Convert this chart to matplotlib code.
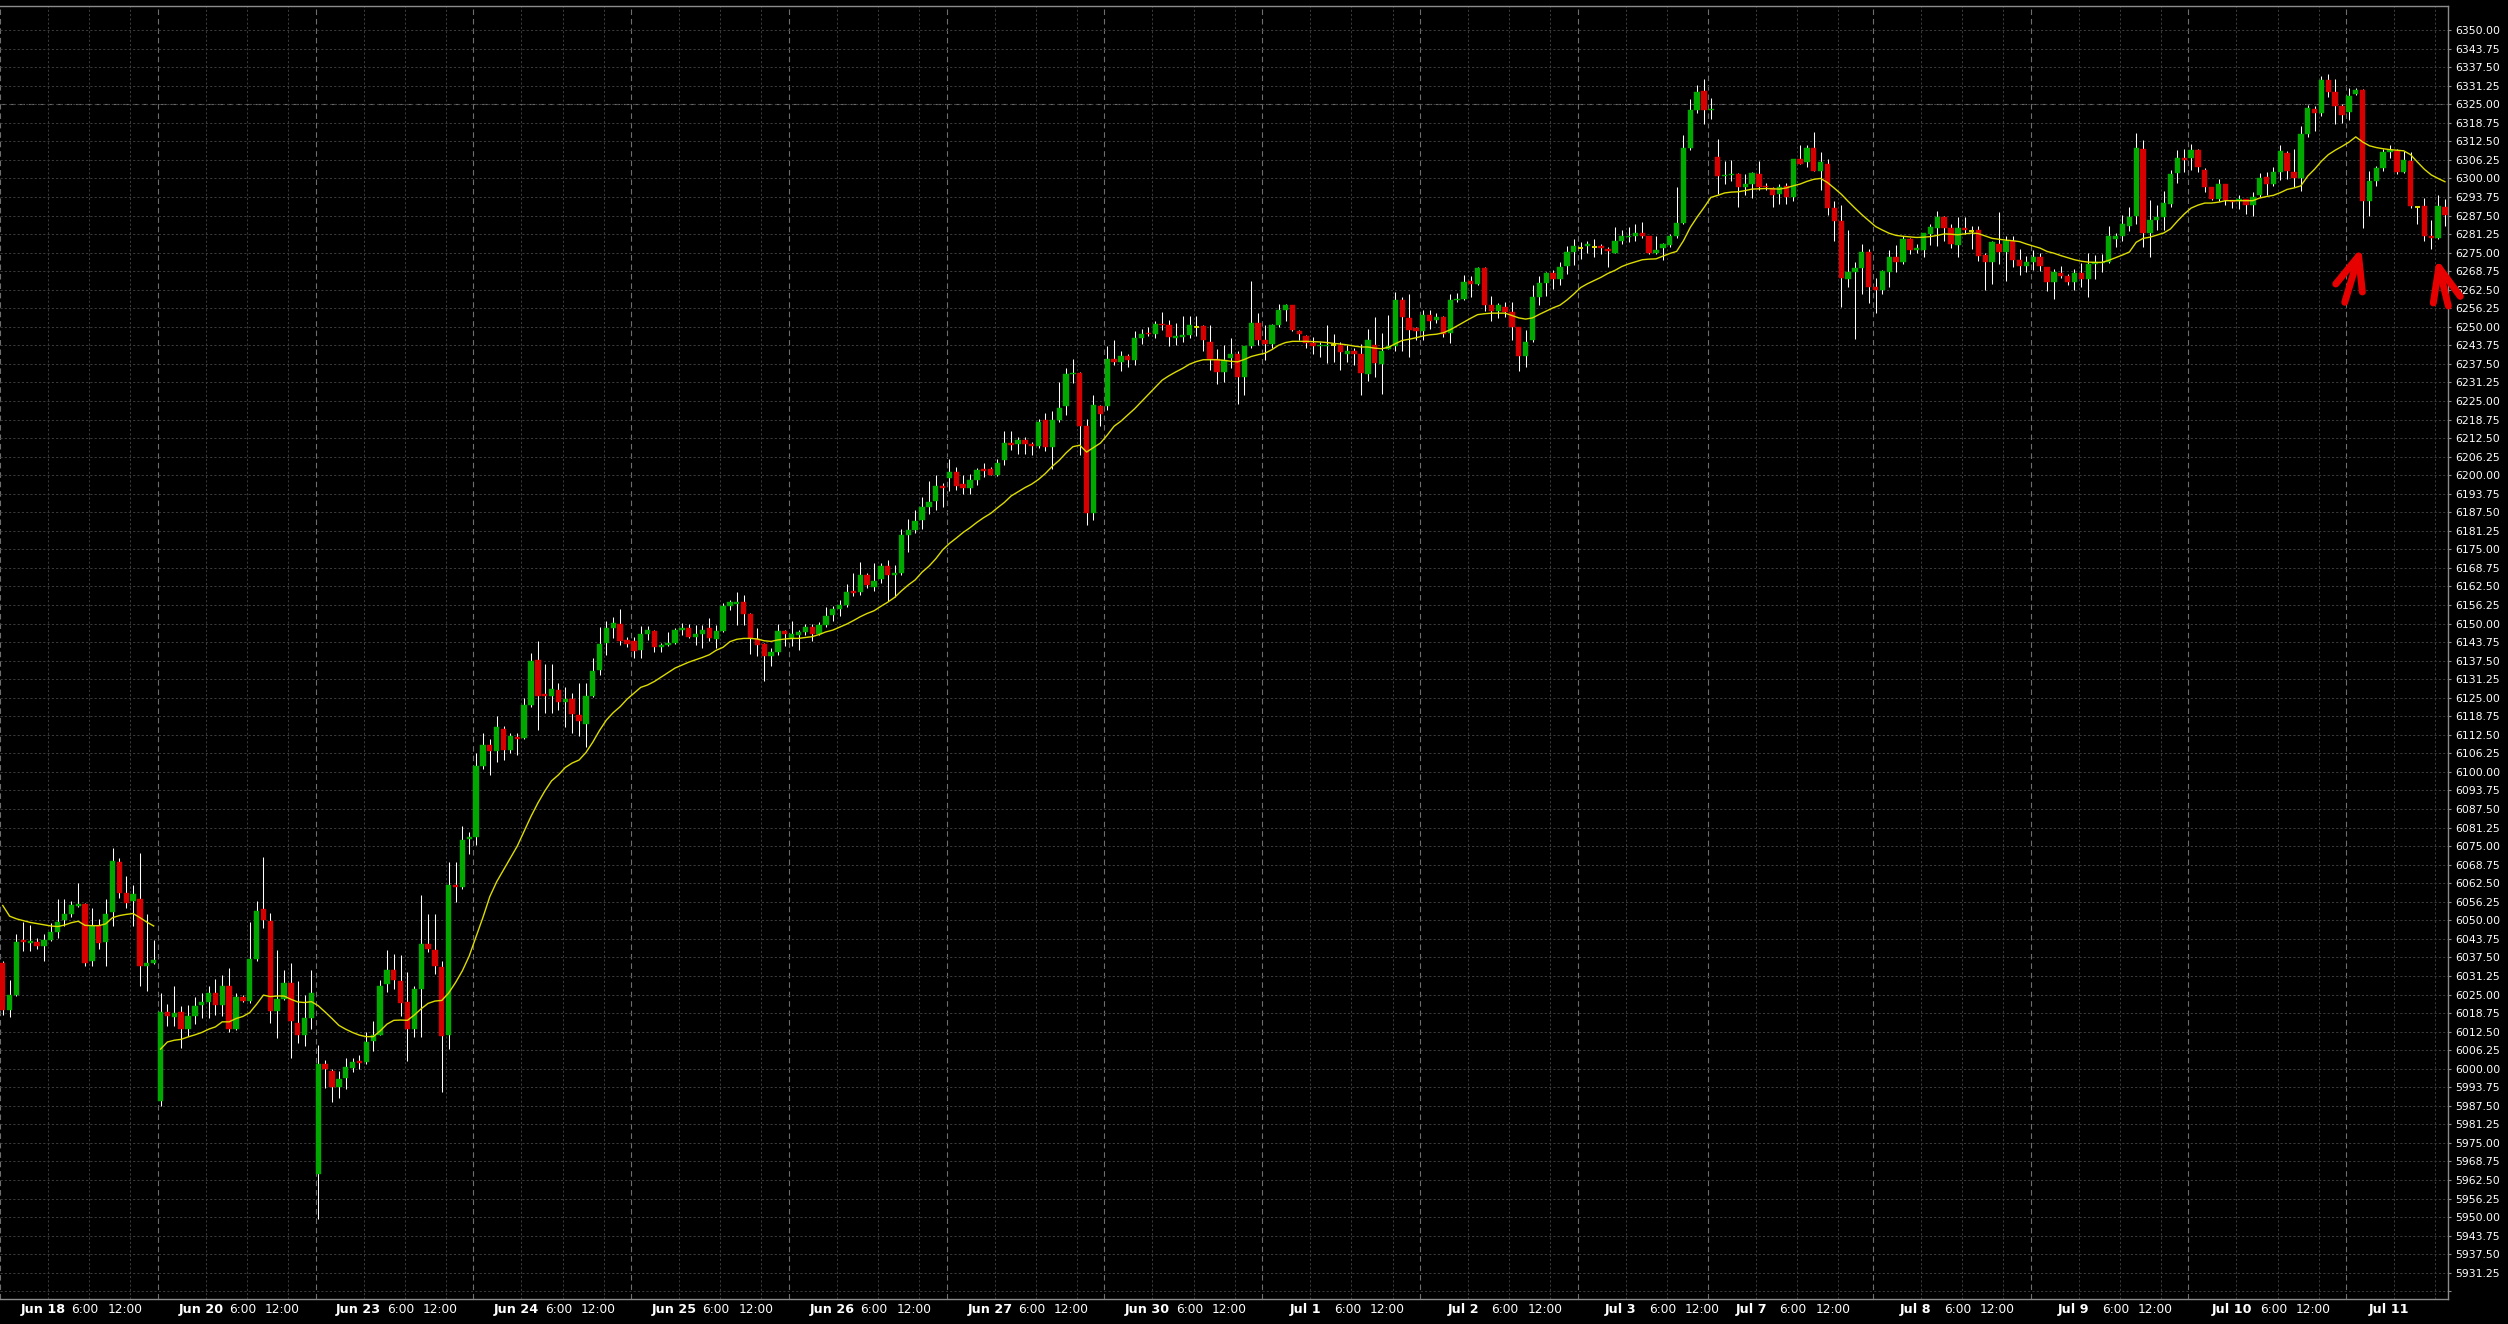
import numpy as np
import matplotlib
matplotlib.use("Agg")
import matplotlib.pyplot as plt

# hourly candles, Jun 18 .. Jul 11 (one row per session)
opens = [
    6035.75, 6019.75, 6024.75, 6043.25, 6042.5, 6042.75, 6041.25, 6043.5, 6046.0, 6050.0, 6052.25, 6054.75, 6055.5, 6036.25, 6048.0, 6042.75, 6052.75, 6069.75, 6059.25, 6056.5, 6057.25, 6034.5, 6035.5,
    5989.25, 6019.25, 6017.5, 6019.25, 6013.5, 6017.75, 6021.5, 6022.5, 6025.5, 6021.5, 6028.0, 6013.5, 6024.0, 6022.75, 6037.0, 6053.75, 6049.75, 6019.5, 6023.5, 6029.0, 6015.5, 6011.5, 6017.0,
    5964.5, 6001.5, 5999.25, 5994.0, 5996.75, 6000.25, 6002.5, 6002.25, 6009.5, 6011.5, 6028.5, 6033.25, 6029.5, 6022.5, 6013.25, 6027.0, 6042.0, 6040.0, 6034.25, 6011.5, 6061.75, 6061.25, 6077.5,
    6078.0, 6102.0, 6109.0, 6107.0, 6114.5, 6107.5, 6111.75, 6111.5, 6122.5, 6137.75, 6126.25, 6125.75, 6127.75, 6123.5, 6124.5, 6119.25, 6116.0, 6125.5, 6134.5, 6143.5, 6148.5, 6150.0, 6144.5,
    6144.0, 6141.0, 6146.5, 6147.5, 6142.25, 6142.75, 6143.5, 6148.0, 6148.5, 6145.5, 6146.5, 6148.5, 6144.75, 6147.5, 6156.0, 6156.75, 6157.25, 6153.25, 6144.75, 6143.0, 6139.0, 6140.25, 6147.5,
    6144.75, 6146.25, 6147.0, 6149.0, 6146.5, 6149.5, 6153.0, 6154.75, 6156.25, 6161.0, 6160.5, 6166.25, 6162.25, 6165.0, 6169.5, 6166.25, 6167.0, 6179.75, 6181.5, 6184.75, 6189.25, 6191.25, 6196.5,
    6199.0, 6201.0, 6197.0, 6195.75, 6198.25, 6202.0, 6202.0, 6200.0, 6205.0, 6210.75, 6210.5, 6212.0, 6210.5, 6210.0, 6218.5, 6209.5, 6218.5, 6223.25, 6234.0, 6234.5, 6216.5, 6187.25, 6223.25,
    6223.25, 6239.0, 6238.0, 6240.0, 6238.75, 6246.25, 6248.0, 6247.5, 6251.0, 6250.75, 6246.25, 6246.5, 6247.25, 6250.0, 6250.25, 6245.0, 6239.0, 6234.75, 6239.5, 6241.0, 6233.0, 6243.5, 6251.25,
    6245.5, 6244.25, 6250.5, 6255.5, 6257.25, 6248.75, 6247.0, 6244.5, 6243.5, 6243.5, 6243.75, 6244.0, 6241.0, 6241.75, 6240.75, 6234.25, 6244.0, 6237.5, 6242.5, 6243.5, 6259.0, 6253.0, 6249.5,
    6248.5, 6254.0, 6252.25, 6253.25, 6248.0, 6259.0, 6259.25, 6265.5, 6264.5, 6269.75, 6257.5, 6255.25, 6256.75, 6255.0, 6250.0, 6240.0, 6245.5, 6260.0, 6264.75, 6268.0, 6266.0, 6270.5, 6275.25,
    6276.5, 6277.25, 6277.0, 6277.25, 6276.25, 6275.0, 6279.0, 6280.25, 6280.75, 6281.5, 6280.5, 6274.75, 6276.5, 6277.5, 6280.5, 6285.0, 6310.25, 6323.0, 6329.5,
    6323.0, 6307.25, 6300.75, 6301.0, 6301.5, 6297.25, 6298.0, 6301.5, 6297.5, 6296.75, 6294.75, 6297.5, 6293.75, 6306.5, 6305.5, 6310.25, 6302.5, 6304.75, 6290.0, 6285.75, 6266.0, 6268.5, 6269.75, 6275.25,
    6263.5, 6262.25, 6268.5, 6273.5, 6272.0, 6279.5, 6275.75, 6276.0, 6281.25, 6283.25, 6287.0, 6283.25, 6277.5, 6283.25, 6282.25, 6282.5, 6274.25, 6271.75, 6278.0, 6275.25, 6279.0, 6272.5, 6270.5,
    6271.75, 6273.5, 6270.25, 6265.0, 6268.25, 6267.0, 6265.0, 6268.25, 6266.0, 6271.0, 6271.5, 6272.0, 6279.75, 6280.5, 6284.0, 6287.25, 6310.0, 6281.5, 6286.0, 6287.0, 6291.5, 6301.75, 6307.0,
    6306.75, 6309.5, 6303.0, 6297.0, 6293.0, 6298.0, 6292.75, 6292.25, 6293.0, 6291.0, 6294.25, 6300.5, 6298.0, 6302.0, 6308.5, 6302.0, 6300.0, 6315.0, 6323.5, 6322.0, 6333.0, 6329.0, 6324.5,
    6322.5, 6328.5, 6329.75, 6292.5, 6299.0, 6303.5, 6309.0, 6309.25, 6302.25, 6306.0, 6290.5, 6290.75, 6280.5, 6280.0, 6290.5,
]
highs = [
    6036.25, 6029.75, 6045.25, 6049.5, 6048.5, 6044.0, 6045.25, 6049.25, 6057.25, 6057.25, 6056.5, 6062.5, 6056.0, 6054.25, 6050.5, 6057.25, 6074.5, 6071.0, 6065.0, 6061.75, 6072.75, 6052.0, 6043.5,
    6025.5, 6021.75, 6028.0, 6021.25, 6021.5, 6024.0, 6025.5, 6028.0, 6030.25, 6031.5, 6034.0, 6025.5, 6025.0, 6049.5, 6056.5, 6071.5, 6052.5, 6040.0, 6033.25, 6035.5, 6029.5, 6025.0, 6033.25,
    6008.0, 6003.0, 5999.75, 5999.25, 6003.5, 6003.75, 6004.5, 6012.5, 6016.0, 6030.0, 6040.0, 6038.5, 6038.25, 6032.5, 6028.0, 6058.5, 6052.25, 6052.25, 6036.25, 6069.75, 6069.75, 6081.75, 6079.75,
    6106.5, 6113.0, 6111.0, 6119.0, 6115.5, 6113.0, 6113.0, 6125.0, 6140.0, 6144.0, 6136.5, 6136.5, 6130.0, 6128.5, 6126.5, 6130.0, 6130.0, 6138.25, 6149.0, 6151.0, 6152.25, 6155.0, 6145.5,
    6145.5, 6149.25, 6149.25, 6147.75, 6143.5, 6147.0, 6148.5, 6150.25, 6149.75, 6149.5, 6149.5, 6152.0, 6149.5, 6157.0, 6158.0, 6160.5, 6159.75, 6153.5, 6148.5, 6143.5, 6141.75, 6150.0, 6148.0,
    6151.0, 6148.0, 6150.0, 6150.0, 6150.5, 6155.5, 6156.0, 6158.0, 6163.5, 6167.0, 6170.75, 6167.0, 6170.5, 6170.5, 6171.5, 6169.75, 6182.0, 6185.25, 6188.25, 6192.5, 6198.0, 6200.0, 6197.25,
    6205.5, 6202.75, 6200.0, 6200.25, 6202.5, 6204.25, 6202.75, 6205.5, 6214.75, 6214.75, 6213.0, 6213.0, 6211.25, 6219.0, 6221.0, 6221.5, 6231.5, 6236.0, 6239.0, 6234.75, 6219.0, 6227.0, 6223.5,
    6243.5, 6245.5, 6242.0, 6241.0, 6248.75, 6249.25, 6250.0, 6252.0, 6255.0, 6252.25, 6251.25, 6253.5, 6253.5, 6253.5, 6250.5, 6250.5, 6242.5, 6244.0, 6246.25, 6242.0, 6243.5, 6265.5, 6254.5,
    6250.5, 6251.0, 6257.75, 6257.75, 6257.25, 6249.0, 6247.25, 6246.5, 6244.75, 6250.75, 6247.5, 6244.75, 6244.0, 6243.0, 6244.25, 6249.25, 6253.25, 6248.0, 6254.0, 6261.75, 6260.0, 6261.0, 6250.0,
    6255.75, 6255.5, 6254.5, 6253.75, 6261.0, 6261.25, 6267.5, 6267.25, 6270.0, 6270.25, 6260.5, 6258.0, 6258.25, 6258.5, 6250.0, 6249.0, 6264.0, 6267.0, 6268.5, 6269.0, 6271.75, 6277.25, 6279.5,
    6278.5, 6279.0, 6279.5, 6278.0, 6276.75, 6283.5, 6282.5, 6283.5, 6284.5, 6285.25, 6280.5, 6280.75, 6278.25, 6281.25, 6297.0, 6314.75, 6326.75, 6331.5, 6333.5,
    6327.25, 6313.25, 6306.0, 6306.25, 6301.75, 6301.5, 6302.25, 6306.0, 6298.5, 6297.25, 6298.0, 6298.5, 6306.5, 6311.25, 6311.25, 6315.5, 6309.0, 6306.5, 6292.5, 6291.0, 6282.75, 6271.75, 6278.0, 6276.25,
    6266.5, 6269.0, 6275.75, 6277.5, 6280.75, 6280.0, 6278.0, 6281.75, 6284.5, 6289.0, 6287.5, 6284.5, 6287.0, 6287.0, 6284.0, 6284.0, 6275.0, 6279.0, 6288.75, 6280.75, 6280.75, 6276.25, 6274.0,
    6276.0, 6275.0, 6270.25, 6269.5, 6270.5, 6267.75, 6269.5, 6271.5, 6274.75, 6274.25, 6274.5, 6284.0, 6281.75, 6287.75, 6290.5, 6315.25, 6313.0, 6292.75, 6291.0, 6295.75, 6303.0, 6309.5, 6310.0,
    6311.75, 6310.0, 6303.5, 6297.0, 6299.75, 6298.0, 6292.75, 6294.25, 6293.0, 6295.5, 6301.75, 6302.0, 6303.75, 6311.25, 6309.25, 6310.0, 6317.5, 6324.75, 6324.5, 6334.5, 6335.25, 6333.5, 6325.0,
    6330.5, 6330.5, 6330.25, 6302.5, 6304.25, 6310.0, 6311.25, 6310.0, 6309.25, 6308.75, 6290.75, 6293.5, 6286.0, 6294.5, 6293.0,
]
lows = [
    6018.25, 6017.5, 6024.5, 6039.75, 6039.75, 6040.5, 6036.25, 6043.0, 6044.0, 6048.0, 6051.0, 6054.5, 6034.5, 6034.5, 6040.25, 6034.5, 6048.25, 6057.5, 6054.25, 6048.0, 6028.0, 6026.25, 6035.25,
    5987.5, 6014.5, 6014.5, 6007.0, 6011.0, 6015.0, 6017.25, 6017.25, 6018.0, 6017.75, 6012.25, 6013.0, 6022.5, 6022.0, 6036.25, 6047.25, 6015.5, 6010.25, 6023.25, 6003.5, 6008.75, 6007.5, 6013.5,
    5949.25, 5993.5, 5988.75, 5990.25, 5993.0, 5999.0, 5999.75, 6001.5, 6006.0, 6011.5, 6026.0, 6026.75, 6017.75, 6002.5, 6010.75, 6010.75, 6039.25, 6032.0, 5992.25, 6006.75, 6056.25, 6060.5, 6072.25,
    6075.25, 6101.0, 6099.0, 6103.5, 6104.0, 6106.5, 6105.75, 6111.0, 6122.0, 6114.0, 6119.75, 6120.0, 6121.0, 6115.25, 6113.0, 6112.0, 6108.5, 6125.25, 6132.75, 6139.5, 6145.0, 6142.75, 6142.25,
    6138.25, 6138.5, 6144.5, 6140.5, 6140.5, 6142.5, 6143.25, 6146.25, 6145.0, 6142.75, 6141.75, 6144.0, 6141.75, 6147.0, 6154.5, 6149.5, 6149.5, 6139.75, 6139.0, 6130.75, 6135.75, 6139.5, 6142.5,
    6142.5, 6141.0, 6146.25, 6144.25, 6146.25, 6149.0, 6151.0, 6152.5, 6155.5, 6159.25, 6159.5, 6162.0, 6161.0, 6163.75, 6157.75, 6159.0, 6166.25, 6174.0, 6180.5, 6182.0, 6187.0, 6188.25, 6189.25,
    6194.75, 6195.0, 6193.75, 6193.5, 6196.75, 6199.5, 6200.0, 6199.75, 6203.5, 6208.5, 6207.25, 6207.25, 6206.75, 6209.0, 6208.0, 6202.25, 6218.0, 6220.25, 6231.0, 6206.75, 6183.25, 6184.75, 6216.5,
    6222.0, 6237.0, 6235.25, 6236.5, 6237.25, 6244.25, 6246.75, 6246.25, 6249.0, 6243.5, 6244.0, 6244.75, 6246.25, 6247.0, 6242.0, 6235.5, 6230.75, 6231.5, 6236.0, 6224.0, 6227.0, 6243.0, 6244.0,
    6238.75, 6242.75, 6250.0, 6252.0, 6248.75, 6245.5, 6243.0, 6241.0, 6239.75, 6237.75, 6238.0, 6235.5, 6238.0, 6237.0, 6227.0, 6231.75, 6233.0, 6227.5, 6242.5, 6242.0, 6242.0, 6239.75, 6245.5,
    6245.5, 6249.25, 6251.25, 6246.5, 6244.5, 6258.5, 6259.0, 6260.0, 6264.0, 6255.25, 6252.0, 6253.0, 6253.25, 6245.5, 6235.25, 6236.5, 6245.0, 6257.25, 6260.25, 6262.75, 6264.0, 6267.75, 6270.75,
    6272.75, 6275.0, 6273.5, 6274.5, 6270.0, 6274.75, 6278.0, 6278.5, 6278.75, 6280.0, 6274.5, 6274.5, 6272.5, 6277.0, 6280.0, 6284.5, 6309.5, 6322.0, 6318.5,
    6320.0, 6294.75, 6298.25, 6299.25, 6290.5, 6294.25, 6293.5, 6296.0, 6296.0, 6290.5, 6291.5, 6291.5, 6292.5, 6304.75, 6304.0, 6302.5, 6296.0, 6287.75, 6279.0, 6256.75, 6263.25, 6246.0, 6261.0, 6258.0,
    6254.5, 6261.0, 6263.25, 6268.5, 6271.25, 6274.5, 6275.0, 6273.5, 6277.5, 6277.25, 6279.0, 6276.5, 6273.5, 6281.25, 6276.25, 6272.25, 6262.25, 6264.5, 6271.25, 6265.5, 6270.0, 6267.5, 6268.5,
    6269.0, 6268.75, 6262.0, 6259.5, 6266.5, 6264.0, 6262.25, 6263.25, 6260.0, 6266.0, 6268.5, 6271.5, 6276.75, 6279.0, 6282.25, 6284.5, 6277.0, 6273.5, 6282.75, 6282.5, 6290.25, 6298.5, 6302.25,
    6303.0, 6302.25, 6295.5, 6292.75, 6292.5, 6291.0, 6290.0, 6289.75, 6288.0, 6287.5, 6293.75, 6294.5, 6297.5, 6299.5, 6299.75, 6297.0, 6295.75, 6314.0, 6316.0, 6321.0, 6327.5, 6318.25, 6318.75,
    6319.75, 6328.0, 6283.25, 6287.5, 6297.5, 6302.5, 6307.0, 6301.5, 6301.75, 6290.0, 6284.5, 6278.75, 6276.25, 6279.5, 6284.0,
]
closes = [
    6019.75, 6024.75, 6042.75, 6042.75, 6043.0, 6041.25, 6043.5, 6046.0, 6049.5, 6052.25, 6055.0, 6055.5, 6035.75, 6048.25, 6042.25, 6052.25, 6070.0, 6059.25, 6056.0, 6058.75, 6034.5, 6035.75, 6036.75,
    6019.25, 6017.75, 6018.75, 6013.5, 6017.75, 6021.0, 6022.5, 6025.5, 6021.5, 6028.0, 6013.5, 6024.0, 6022.75, 6037.0, 6053.25, 6050.0, 6019.5, 6023.5, 6029.0, 6016.0, 6011.5, 6017.25, 6025.5,
    6001.5, 5999.75, 5994.0, 5996.5, 6000.5, 6002.25, 6002.0, 6009.0, 6011.25, 6028.0, 6033.25, 6029.75, 6022.0, 6013.25, 6027.0, 6042.0, 6040.5, 6034.5, 6011.0, 6061.75, 6061.25, 6077.0, 6078.0,
    6102.0, 6109.0, 6107.0, 6115.0, 6107.5, 6112.0, 6111.25, 6122.5, 6137.5, 6125.75, 6125.75, 6128.0, 6123.5, 6124.5, 6119.5, 6117.25, 6125.5, 6134.0, 6143.0, 6148.5, 6150.25, 6144.0, 6143.0,
    6140.75, 6146.5, 6148.0, 6142.25, 6142.75, 6143.5, 6148.0, 6148.5, 6145.5, 6146.5, 6148.0, 6145.25, 6147.5, 6156.0, 6157.25, 6157.25, 6153.25, 6145.0, 6142.75, 6139.0, 6140.25, 6147.5, 6146.5,
    6146.5, 6147.0, 6149.0, 6146.5, 6149.5, 6152.5, 6154.75, 6156.25, 6160.5, 6160.25, 6166.25, 6163.0, 6164.25, 6169.5, 6166.25, 6167.0, 6179.75, 6181.5, 6184.5, 6189.25, 6191.0, 6196.25, 6195.75,
    6201.0, 6196.5, 6195.75, 6198.25, 6201.75, 6201.25, 6200.0, 6204.25, 6211.0, 6210.25, 6211.75, 6210.5, 6210.0, 6218.0, 6209.5, 6218.5, 6222.75, 6234.0, 6234.5, 6216.5, 6187.25, 6223.5, 6220.5,
    6239.0, 6238.0, 6240.0, 6238.75, 6246.25, 6247.5, 6247.5, 6251.0, 6250.5, 6246.5, 6247.0, 6247.25, 6250.5, 6250.0, 6245.5, 6239.0, 6234.75, 6238.75, 6241.0, 6233.0, 6243.5, 6251.25, 6245.5,
    6244.25, 6250.5, 6255.5, 6257.5, 6249.0, 6247.5, 6244.5, 6243.5, 6244.0, 6244.0, 6243.75, 6241.5, 6241.75, 6240.75, 6234.5, 6245.5, 6237.75, 6241.75, 6243.5, 6259.0, 6253.25, 6249.0, 6248.5,
    6254.0, 6252.0, 6253.25, 6247.5, 6259.0, 6259.5, 6265.25, 6264.5, 6269.75, 6257.25, 6255.25, 6257.25, 6255.0, 6250.0, 6240.0, 6245.0, 6260.0, 6264.75, 6268.0, 6266.0, 6270.25, 6275.25, 6277.25,
    6276.5, 6277.75, 6277.0, 6276.5, 6275.5, 6279.0, 6280.5, 6280.75, 6281.5, 6280.75, 6274.75, 6275.75, 6277.75, 6280.75, 6285.0, 6310.25, 6323.0, 6329.0, 6323.0,
    6323.25, 6300.75, 6301.25, 6301.5, 6297.25, 6298.0, 6301.75, 6297.25, 6297.0, 6294.5, 6297.25, 6293.75, 6306.5, 6304.75, 6310.25, 6302.5, 6305.5, 6290.0, 6285.75, 6266.5, 6268.5, 6269.75, 6275.25, 6263.25,
    6262.25, 6268.75, 6273.5, 6272.0, 6279.5, 6276.0, 6276.5, 6281.5, 6283.5, 6287.0, 6283.25, 6277.75, 6283.25, 6282.5, 6282.25, 6274.0, 6272.0, 6278.5, 6275.25, 6279.0, 6272.5, 6270.5, 6272.0,
    6273.5, 6270.5, 6265.0, 6268.5, 6267.0, 6265.25, 6268.25, 6266.0, 6271.0, 6271.75, 6272.0, 6280.5, 6280.5, 6284.5, 6287.0, 6310.25, 6281.5, 6286.0, 6287.0, 6291.75, 6301.5, 6306.75, 6306.25,
    6309.5, 6303.75, 6297.0, 6293.0, 6298.0, 6292.75, 6292.0, 6293.0, 6291.0, 6293.75, 6300.0, 6298.0, 6302.0, 6309.25, 6302.5, 6300.0, 6315.0, 6323.75, 6322.0, 6333.0, 6329.25, 6324.5, 6321.5,
    6327.75, 6329.75, 6292.5, 6299.25, 6303.5, 6309.0, 6309.5, 6302.0, 6306.25, 6290.75, 6290.5, 6280.5, 6280.0, 6290.75, 6287.75,
]

# moving average as drawn: a short piece on Jun 18, then from Jun 20 on
ma_jun18 = [
    6055.0, 6051.4, 6050.5, 6049.9, 6049.3, 6048.9, 6048.5, 6048.1, 6047.9, 6048.4, 6049.2, 6049.7, 6048.3, 6048.2, 6048.2, 6048.8, 6050.9, 6051.6, 6052.0, 6052.3, 6050.9, 6049.4, 6048.1,
]
ma_rest = [
    6006.6, 6009.0, 6009.6, 6009.9, 6010.7, 6011.4, 6012.2, 6013.3, 6014.1, 6015.8, 6015.8, 6016.9, 6017.6, 6018.9, 6021.7, 6024.8, 6024.3, 6024.5, 6024.5, 6023.4, 6022.5, 6022.3, 6022.6,
    6021.2, 6019.1, 6016.9, 6014.6, 6013.3, 6012.2, 6011.3, 6010.8, 6010.8, 6012.7, 6015.0, 6016.3, 6016.4, 6016.3, 6018.1, 6020.2, 6022.0, 6022.8, 6023.0, 6025.5, 6029.0, 6033.0, 6038.0,
    6044.5, 6051.0, 6058.0, 6063.0, 6067.0, 6071.0, 6075.0, 6080.0, 6085.0, 6089.5, 6093.5, 6097.0, 6099.0, 6101.5, 6103.0, 6104.0, 6106.5, 6110.0, 6114.0, 6117.5, 6120.0, 6122.0, 6124.5,
    6126.5, 6128.5, 6129.3, 6130.5, 6132.0, 6133.5, 6135.0, 6136.0, 6137.0, 6137.8, 6138.6, 6139.5, 6141.0, 6142.0, 6143.9, 6144.7, 6145.0, 6145.0, 6144.8, 6144.2, 6144.0, 6144.5, 6144.8,
    6145.0, 6145.0, 6145.3, 6145.6, 6146.3, 6147.2, 6147.8, 6148.8, 6149.8, 6151.0, 6152.3, 6153.4, 6154.3, 6155.8, 6157.2, 6158.8, 6161.0, 6163.0, 6164.7, 6167.3, 6169.3, 6171.8, 6174.8,
    6177.0, 6178.8, 6180.7, 6182.3, 6184.1, 6185.7, 6187.1, 6189.0, 6190.8, 6193.0, 6194.4, 6195.8, 6197.0, 6198.6, 6200.6, 6203.0, 6205.0, 6207.5, 6209.6, 6210.1, 6207.8, 6209.3, 6210.8,
    6213.5, 6216.5, 6218.2, 6220.3, 6222.4, 6224.8, 6227.2, 6229.6, 6232.0, 6233.5, 6234.8, 6236.0, 6237.4, 6238.3, 6238.9, 6238.9, 6238.9, 6238.7, 6238.4, 6238.2, 6239.0, 6240.0, 6240.6,
    6241.1, 6242.3, 6243.8, 6244.7, 6245.1, 6245.1, 6245.1, 6245.0, 6244.9, 6244.7, 6244.4, 6244.2, 6243.9, 6243.5, 6243.2, 6243.2, 6242.8, 6242.6, 6243.1, 6244.3, 6245.4, 6245.8, 6246.3,
    6246.9, 6247.3, 6247.5, 6248.0, 6249.0, 6250.3, 6251.6, 6252.9, 6254.1, 6254.4, 6254.6, 6254.6, 6254.6, 6253.8, 6253.0, 6252.6, 6253.0, 6254.2, 6255.3, 6256.4, 6257.3, 6259.0, 6261.0,
    6263.2, 6264.5, 6265.6, 6266.7, 6268.0, 6269.0, 6270.3, 6271.2, 6271.9, 6272.6, 6272.8, 6272.9, 6273.8, 6274.7, 6275.4, 6279.0, 6283.5, 6287.0, 6290.2,
    6293.6, 6294.3, 6295.1, 6295.4, 6295.5, 6295.9, 6296.4, 6296.5, 6296.6, 6296.5, 6296.4, 6296.8, 6297.5, 6298.1, 6299.0, 6299.7, 6300.0, 6298.6, 6296.7, 6294.7, 6292.3, 6290.0, 6287.8, 6285.8,
    6283.8, 6282.6, 6281.5, 6280.8, 6280.5, 6280.3, 6280.1, 6280.2, 6280.4, 6280.8, 6281.3, 6281.2, 6281.0, 6281.3, 6281.6, 6281.4, 6280.6, 6279.8, 6279.5, 6279.2, 6279.0, 6278.7, 6277.9,
    6277.2, 6276.5, 6275.4, 6274.8, 6274.0, 6273.3, 6272.6, 6272.1, 6271.8, 6271.7, 6271.7, 6272.4, 6273.3, 6274.2, 6275.2, 6278.5, 6279.8, 6280.2, 6280.9, 6281.6, 6283.0, 6285.6, 6288.0,
    6290.0, 6291.0, 6291.7, 6291.7, 6292.0, 6292.5, 6292.5, 6292.5, 6292.5, 6292.5, 6293.4, 6293.9, 6294.3, 6295.2, 6296.3, 6296.8, 6297.5, 6300.8, 6303.1, 6305.8, 6308.0, 6309.5, 6310.8,
    6312.2, 6314.0, 6312.3, 6311.0, 6310.4, 6310.0, 6309.7, 6309.5, 6309.3, 6308.0, 6305.5, 6303.1, 6301.2, 6300.0, 6298.9,
]

day_labels = ["Jun 18", "Jun 20", "Jun 23", "Jun 24", "Jun 25", "Jun 26", "Jun 27", "Jun 30",
              "Jul 1", "Jul 2", "Jul 3", "Jul 7", "Jul 8", "Jul 9", "Jul 10", "Jul 11"]
day_bars = [23, 23, 23, 23, 23, 23, 23, 23, 23, 23, 19, 24, 23, 23, 23, 15]
hour_labels = ["6:00", "12:00"]

# candles marked with the red arrows
arrow_bars = [344, 355]

o = np.array(opens)
h = np.array(highs)
l = np.array(lows)
c = np.array(closes)
n = len(o)
x = np.arange(n)
firsts = np.concatenate([[0], np.cumsum(day_bars)[:-1]])

GREEN = "#00a800"
RED = "#d60000"
YELLOW = "#dcdc00"
GRID = "#3c3c3c"

fig = plt.figure(figsize=(25.08, 13.24), dpi=100, facecolor="black")
ax = fig.add_axes([0, 25 / 1324, 2448 / 2508, 1293 / 1324])
ax.set_facecolor("black")
ax.set_xlim(-0.4, n - 0.55)
ax.set_ylim(5922.4, 6358.1)

# price grid / right hand scale
yticks = np.arange(5925, 6350.01, 6.25)
ax.yaxis.tick_right()
ax.set_yticks(yticks)
ax.set_yticklabels(["" if v < 5930 else "%.2f" % v for v in yticks])
ax.tick_params(axis="y", colors="#8c8c8c", labelcolor="white", length=2.2,
               width=0.8, pad=2.9, labelsize=7.8)
ax.set_xticks([])
ax.grid(axis="y", color=GRID, linestyle=(0, (2.2, 2.2)), linewidth=0.7)

for s in ["right", "bottom", "top"]:
    ax.spines[s].set_color("#8c8c8c")
    ax.spines[s].set_linewidth(1.0)
ax.spines["left"].set_visible(False)

# time grid every 6 bars and session separators
for k, f in enumerate(firsts):
    end = f + day_bars[k]
    for off in (7, 13, 19):
        if f + off < end:
            ax.axvline(f + off - 0.4, color=GRID, linestyle=(0, (2.2, 2.2)), linewidth=0.7, zorder=1)
    ax.axvline(f - 0.4, color="#6e6e6e", linestyle=(0, (5, 3.5)), linewidth=0.8, zorder=1)

ax.axhline(6325.0, color="#6a6a6a", linestyle=(0, (5, 3.5)), linewidth=0.8, zorder=1)

# candles
up = c > o
dn = c < o
dj = c == o
ax.vlines(x, l, h, colors="white", linewidth=0.75, zorder=3)
ax.bar(x[up], (c - o)[up], bottom=o[up], width=0.78, color=GREEN,
       edgecolor=GREEN, linewidth=0.3, zorder=4)
ax.bar(x[dn], (o - c)[dn], bottom=c[dn], width=0.78, color=RED,
       edgecolor=RED, linewidth=0.3, zorder=4)
ax.hlines(o[dj], x[dj] - 0.39, x[dj] + 0.39, colors=YELLOW, linewidth=1.4, zorder=4)

# moving average
ax.plot(x[:len(ma_jun18)], ma_jun18, color=YELLOW, linewidth=1.0, zorder=5)
ax.plot(x[len(ma_jun18):], ma_rest, color=YELLOW, linewidth=1.0, zorder=5)

# date / hour labels under the chart
tr = ax.get_xaxis_transform()
for k, f in enumerate(firsts):
    ax.text(f + 5.9, -0.0085, day_labels[k], transform=tr, ha="center", va="center",
            color="white", fontsize=9.2, fontweight="bold")
    if day_bars[k] >= 19:
        ax.text(f + 12.0, -0.0085, hour_labels[0], transform=tr, ha="center",
                va="center", color="white", fontsize=8.8)
        ax.text(f + 17.8, -0.0085, hour_labels[1], transform=tr, ha="center",
                va="center", color="white", fontsize=8.8)

# hand drawn red arrows pointing at two candles
tails = [(-2.4, -18.5), (1.7, -16.0)]
for b, (dx, dy) in zip(arrow_bars, tails):
    tip = (b - 0.2, l[b] - 6.5)
    ax.annotate("", xy=tip, xytext=(tip[0] + dx, tip[1] + dy),
                arrowprops=dict(arrowstyle="->,head_length=2.4,head_width=1.0",
                                color="#e60000", lw=5.0, capstyle="round",
                                joinstyle="round", shrinkA=0, shrinkB=0),
                annotation_clip=False, clip_on=False, zorder=8)

fig.savefig("out.png", dpi=100, facecolor="black")
